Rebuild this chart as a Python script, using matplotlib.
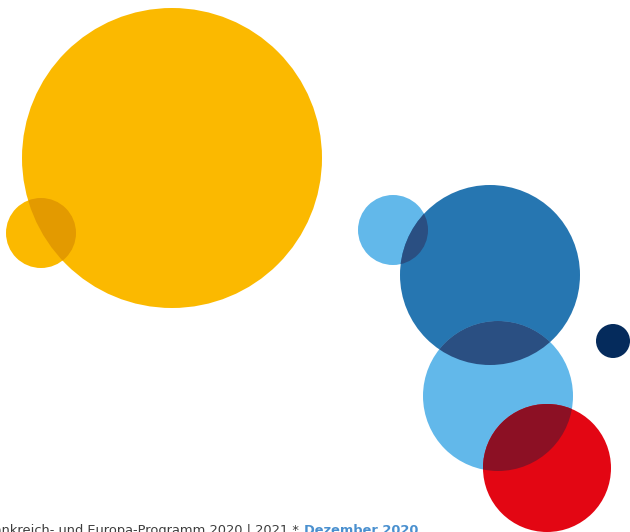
import matplotlib
matplotlib.use("Agg")
import matplotlib.pyplot as plt
from matplotlib.patches import Circle

# Kreise in Pixeln, y von oben
kreise_x = [172, 41, 393, 490, 613, 498, 547]
kreise_y = [158, 233, 230, 275, 341, 396, 468]
kreise_r = [150, 35, 35, 90, 17, 75, 64]
farben = ["#FBB900", "#FBB900", "#62B8EA", "#2676B1", "#052B5C", "#62B8EA", "#E30613"]

# Überlappungen: (oberer Kreis, unterer Kreis, Mischfarbe)
ueberlappung = [(1, 0, "#E39A00"), (2, 3, "#2A4F82"), (5, 3, "#2A4F82"), (6, 5, "#8C1024")]

fusszeile = "Frankreich- und Europa-Programm 2020 | 2021 * "
datum = "Dezember 2020"

fig = plt.figure(figsize=(6.3, 5.32), dpi=100)
ax = fig.add_axes([0, 0, 1, 1])
ax.set_xlim(0, 630)
ax.set_ylim(532, 0)
ax.set_aspect("equal")
ax.axis("off")

for x, y, r, c in zip(kreise_x, kreise_y, kreise_r, farben):
    ax.add_patch(Circle((x, y), r, color=c, lw=0))

for oben, unten, c in ueberlappung:
    clip = Circle((kreise_x[unten], kreise_y[unten]), kreise_r[unten], transform=ax.transData)
    p = Circle((kreise_x[oben], kreise_y[oben]), kreise_r[oben], color=c, lw=0)
    ax.add_patch(p)
    p.set_clip_path(clip)

# Fußzeile
t2 = ax.text(418, 534, datum, ha="right", va="baseline", fontsize=9.4,
             fontweight="bold", color="#4A90CF", clip_on=False)
fig.canvas.draw()
bb = t2.get_window_extent(fig.canvas.get_renderer())
ax.text(418 - bb.width - 1, 534, fusszeile, ha="right", va="baseline", fontsize=9.4,
        color="#3C3C3C", clip_on=False)

fig.savefig("out.png", dpi=100)
